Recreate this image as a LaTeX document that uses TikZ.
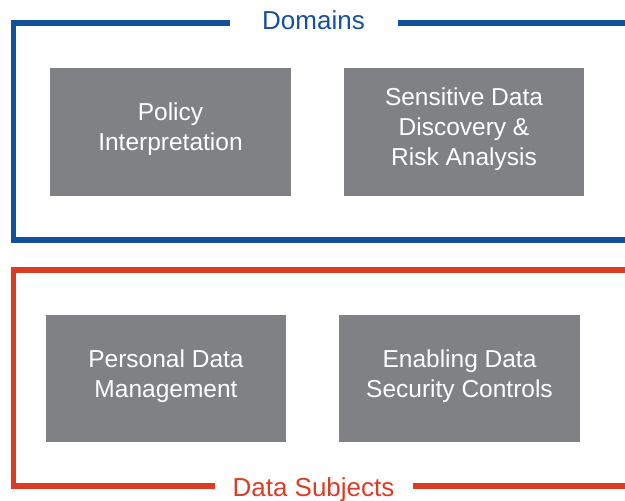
\documentclass[tikz,border=0pt]{standalone}
\usepackage{fontspec}
\setmainfont{Liberation Sans}
\definecolor{dblue}{HTML}{1450A0}
\definecolor{dred}{HTML}{DC3C23}
\definecolor{boxgray}{HTML}{808184}
\begin{document}
\begin{tikzpicture}[x=1pt,y=-1pt,
  gbox/.style={fill=boxgray, draw=none, text=white, align=center,
    font=\fontsize{24.5}{30}\selectfont, inner sep=0pt, text depth=10.5pt},
  ttl/.style={font=\fontsize{26}{30}\selectfont, anchor=base, inner sep=0pt},
  frame/.style={line width=5.5pt, line join=miter}]
\useasboundingbox (0,0) rectangle (625,501);
% boxes
\node[gbox, minimum width=241pt, minimum height=128pt] (b1) at (170.5,132) {Policy\\Interpretation};
\node[gbox, minimum width=240pt, minimum height=128pt] (b2) at (464,132) {Sensitive Data\\Discovery \&\\Risk Analysis};
\node[gbox, minimum width=240pt, minimum height=127pt] (b3) at (166,378.5) {Personal Data\\Management};
\node[gbox, minimum width=241pt, minimum height=127pt] (b4) at (459.5,378.5) {Enabling Data\\Security Controls};
% titles
\node[ttl, text=dblue] (t1) at (313.5,29.5) {Domains};
\node[ttl, text=dred] (t2) at (313.5,496) {Data Subjects};
% blue frame
\coordinate (ba) at (230,23);
\coordinate (bb) at (13.5,23);
\coordinate (bc) at (13.5,240);
\coordinate (bd) at (625,240);
\coordinate (be) at (398,23);
\coordinate (bf) at (625,23);
\draw[frame, dblue] (ba) -- (bb) -- (bc) -- (bd);
\draw[frame, dblue] (be) -- (bf);
% red frame
\coordinate (ra) at (625,270);
\coordinate (rb) at (13.5,270);
\coordinate (rc) at (13.5,486);
\coordinate (rd) at (215,486);
\coordinate (re) at (413,486);
\coordinate (rf) at (625,486);
\draw[frame, dred] (ra) -- (rb) -- (rc) -- (rd);
\draw[frame, dred] (re) -- (rf);
\end{tikzpicture}
\end{document}
